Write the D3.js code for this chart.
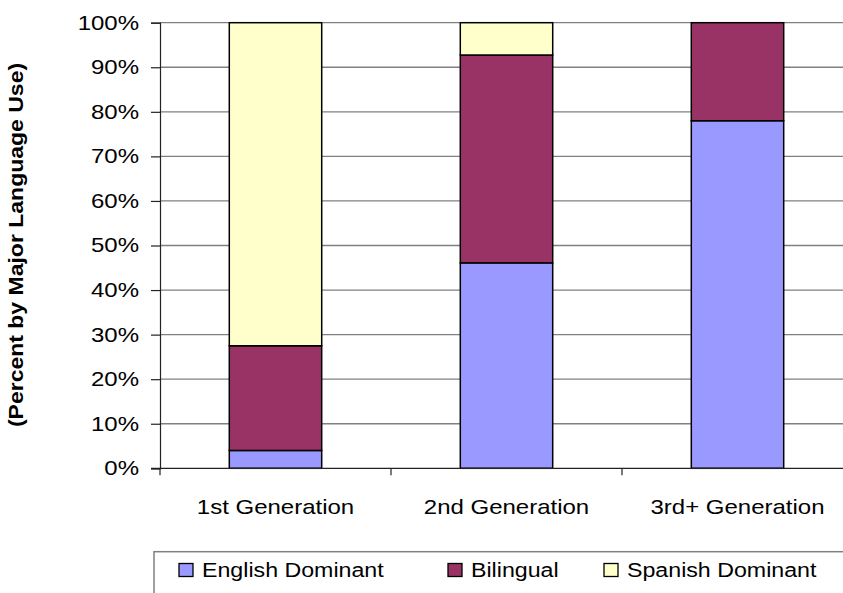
<!DOCTYPE html>
<html>
<head>
<meta charset="utf-8">
<script src="https://cdn.jsdelivr.net/npm/d3@7"></script>
<style>
  body { margin: 0; background: #fff; }
  svg { display: block; font-family: "Liberation Sans", Arial, sans-serif; }
</style>
</head>
<body>
<div id="chart"></div>
<script>
// data
const generations = ["1st Generation", "2nd Generation", "3rd+ Generation"];
const seriesNames = ["English Dominant", "Bilingual", "Spanish Dominant"];
const englishDominant = [4, 46.1, 78];
const bilingual = [23.5, 46.65, 22];
const spanishDominant = [72.5, 7.25, 0];
const yTicks = [0, 10, 20, 30, 40, 50, 60, 70, 80, 90, 100];
const colors = ["#9999ff", "#993366", "#ffffcc"];

const W = 843, H = 593;
const svg = d3.select("#chart").append("svg")
    .attr("width", W).attr("height", H);

const plotLeft = 160, plotRight = 853, plotTop = 22.7, plotBottom = 468.3;

const x = d3.scaleBand()
    .domain(generations)
    .range([plotLeft, plotRight])
    .paddingInner(0.6)
    .paddingOuter(0.3);

const y = d3.scaleLinear().domain([0, 100]).range([plotBottom, plotTop]);

// the text in the picture is wider than plain Arial: scale glyphs horizontally
function widen(sel, k) {
    sel.each(function () {
        const t = d3.select(this);
        const x0 = +t.attr("x") || 0;
        t.attr("x", x0 / k).attr("transform", `scale(${k},1)`);
    });
}

// gridlines
svg.append("g").selectAll("line")
    .data(yTicks.filter(d => d > 0))
    .enter().append("line")
    .attr("x1", plotLeft).attr("x2", plotRight)
    .attr("y1", d => y(d)).attr("y2", d => y(d))
    .attr("stroke", "#808080")
    .attr("stroke-width", 1.3);

// stacked bars
const rows = generations.map((g, i) => ({
    gen: g, "English Dominant": englishDominant[i], "Bilingual": bilingual[i], "Spanish Dominant": spanishDominant[i]
}));
const stacked = d3.stack().keys(seriesNames)(rows);

svg.append("g").selectAll("g")
    .data(stacked)
    .enter().append("g")
    .attr("fill", (d, i) => colors[i])
    .selectAll("rect")
    .data(d => d.filter(p => p[1] - p[0] > 0))
    .enter().append("rect")
    .attr("x", d => x(d.data.gen))
    .attr("width", x.bandwidth())
    .attr("y", d => y(d[1]))
    .attr("height", d => y(d[0]) - y(d[1]))
    .attr("stroke", "#000")
    .attr("stroke-width", 1.5);

// y axis
const yAxis = svg.append("g")
    .attr("transform", `translate(${plotLeft},0)`)
    .call(d3.axisLeft(y).tickValues(yTicks).tickSize(9).tickPadding(12).tickFormat(d => d + "%"));
yAxis.select(".domain").attr("stroke", "#222").attr("stroke-width", 1.2);
yAxis.selectAll(".tick line").attr("stroke", "#222").attr("stroke-width", 1.2);
yAxis.selectAll(".tick text")
    .attr("font-size", 20)
    .attr("fill", "#000")
    .attr("font-family", "Liberation Sans, Arial, sans-serif")
    .call(widen, 1.2);

// x axis
svg.append("line")
    .attr("x1", plotLeft - 9).attr("x2", plotRight)
    .attr("y1", plotBottom).attr("y2", plotBottom)
    .attr("stroke", "#222").attr("stroke-width", 1.2);

const boundaries = generations.map(g => x(g) + x.bandwidth() / 2 - x.step() / 2);
svg.append("g").selectAll("line")
    .data(boundaries)
    .enter().append("line")
    .attr("x1", d => d).attr("x2", d => d)
    .attr("y1", plotBottom).attr("y2", plotBottom + 7)
    .attr("stroke", "#222").attr("stroke-width", 1.2);

svg.append("g").selectAll("text")
    .data(generations)
    .enter().append("text")
    .attr("x", d => x(d) + x.bandwidth() / 2)
    .attr("y", 514)
    .attr("text-anchor", "middle")
    .attr("font-size", 20)
    .text(d => d)
    .call(widen, 1.2);

// y title
svg.append("g")
    .attr("transform", "translate(23,245) rotate(-90)")
    .append("text")
    .attr("text-anchor", "middle")
    .attr("font-size", 19.5)
    .attr("font-weight", "bold")
    .text("(Percent by Major Language Use)")
    .call(widen, 1.18);

// legend
const legend = svg.append("g");
legend.append("rect")
    .attr("x", 154).attr("y", 551.7)
    .attr("width", 720).attr("height", 80)
    .attr("fill", "none")
    .attr("stroke", "#808080")
    .attr("stroke-width", 1.5);

const legendX = [179, 448, 604];
const item = legend.selectAll("g.item")
    .data(seriesNames)
    .enter().append("g")
    .attr("class", "item")
    .attr("transform", (d, i) => `translate(${legendX[i]},0)`);
item.append("rect")
    .attr("x", 0).attr("y", 563.5)
    .attr("width", 14).attr("height", 13)
    .attr("fill", (d, i) => colors[i])
    .attr("stroke", "#000").attr("stroke-width", 1.3);
item.append("text")
    .attr("x", 23).attr("y", 577)
    .attr("font-size", 20)
    .text(d => d)
    .call(widen, 1.16);
</script>
</body>
</html>
